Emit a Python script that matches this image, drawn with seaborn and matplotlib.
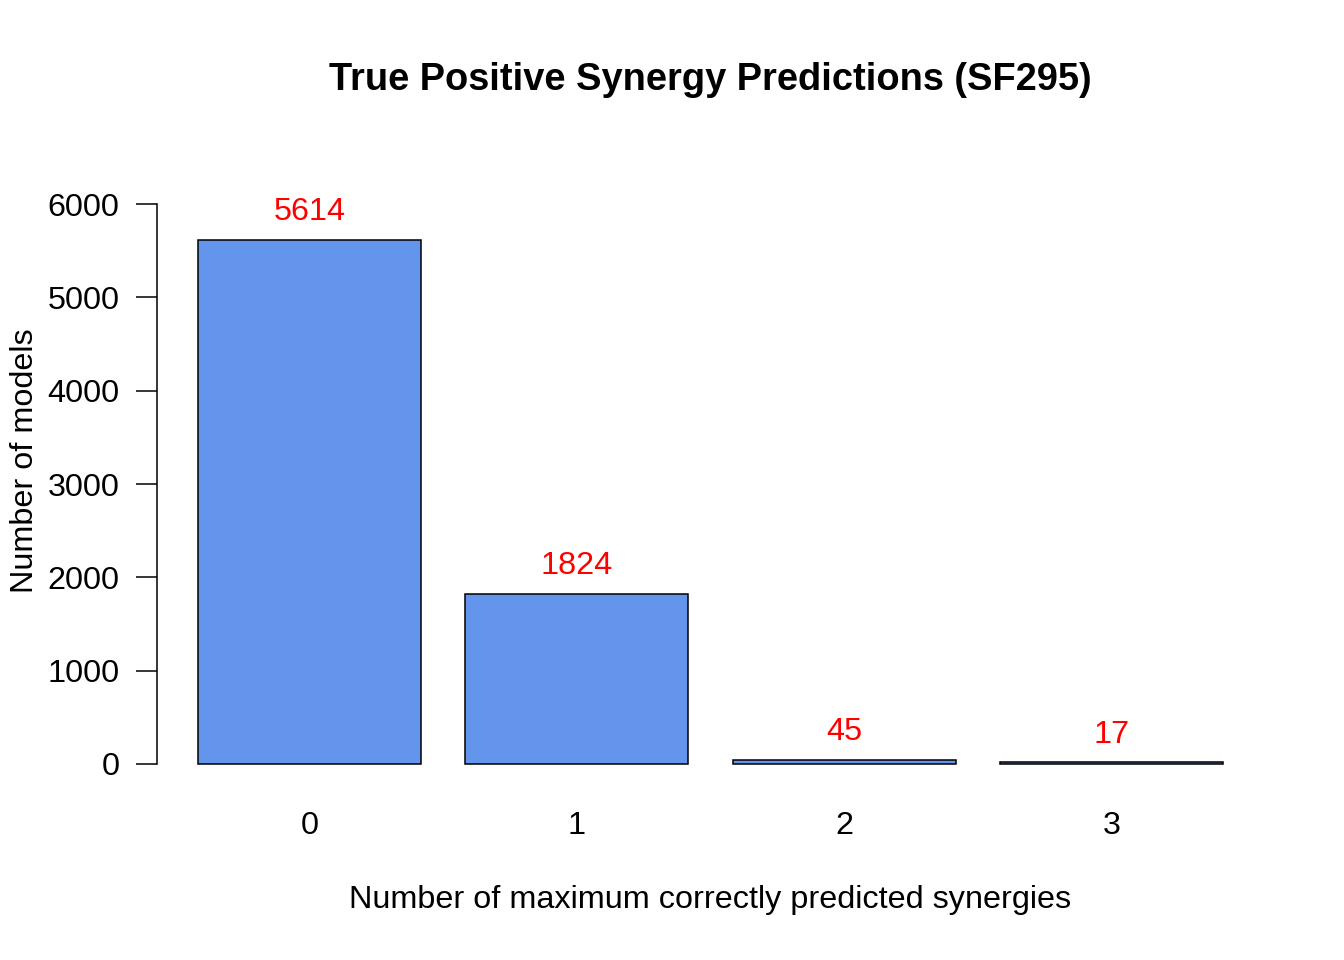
import matplotlib
matplotlib.use("Agg")
import matplotlib.pyplot as plt
import seaborn as sns

# ==========================
# DATA
# ==========================
categories = ["0", "1", "2", "3"]
counts = [5614, 1824, 45, 17]
y_ticks = [0, 1000, 2000, 3000, 4000, 5000, 6000]

title = "True Positive Synergy Predictions (SF295)"
x_label = "Number of maximum correctly predicted synergies"
y_label = "Number of models"

# ==========================
# STYLE
# ==========================
sns.set_style("white")
plt.rcParams["font.family"] = ["Liberation Sans", "DejaVu Sans"]
plt.rcParams["text.color"] = "black"
plt.rcParams["xtick.color"] = "black"
plt.rcParams["ytick.color"] = "black"

fs = 23.3

fig = plt.figure(figsize=(13.44, 9.6), dpi=100)
ax = fig.add_axes([157 / 1344, 1 - 786.4 / 960, (1263 - 157) / 1344, (786.4 - 181.6) / 960])

sns.barplot(x=categories, y=counts, color="#6495ED", saturation=1,
            width=1 / 1.2, edgecolor="black", linewidth=1.1, ax=ax)

# value labels above bars
for i, v in enumerate(counts):
    ax.annotate(str(v), (i, v), xytext=(0, 20), textcoords="offset points",
                ha="center", va="center", color="red", fontsize=fs)

ax.set_xlim(-0.57, 3.565)
ax.set_ylim(-240, 6240)

ax.set_yticks(y_ticks)
ax.set_yticklabels([str(t) for t in y_ticks], fontsize=fs)
ax.tick_params(axis="y", length=15, width=1.1, color="black", labelcolor="black", pad=12, left=True)
ax.tick_params(axis="x", length=0, pad=18, labelsize=fs, labelcolor="black")

for s in ["top", "right", "bottom"]:
    ax.spines[s].set_visible(False)
ax.spines["left"].set_bounds(0, 6000)
ax.spines["left"].set_color("black")
ax.spines["left"].set_linewidth(1.1)

ax.set_xlabel("")
ax.set_ylabel("")

fig.text(710 / 1344, 1 - 80 / 960, title, ha="center", va="center",
         fontsize=27.4, fontweight="bold", color="black")
fig.text(710 / 1344, 1 - 900 / 960, x_label, ha="center", va="center",
         fontsize=fs, color="black")
fig.text(25 / 1344, 1 - 461 / 960, y_label, ha="center", va="center",
         rotation=90, fontsize=fs, color="black")

plt.savefig("out.png", dpi=100)
plt.close()
